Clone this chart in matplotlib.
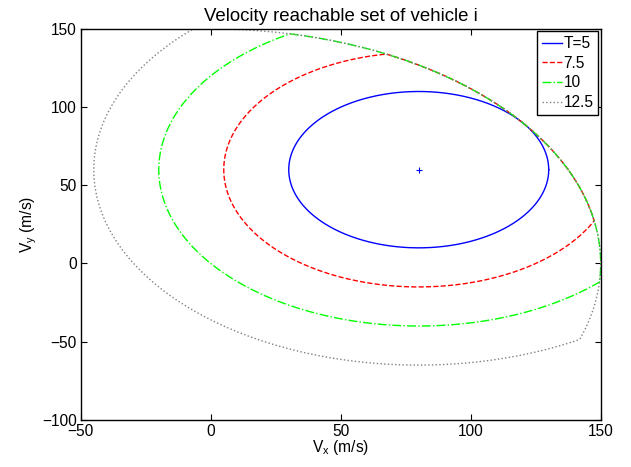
import matplotlib

matplotlib.use("Agg")

import matplotlib.pyplot as plt
import numpy as np

plt.rcParams["font.family"] = ["Liberation Sans", "DejaVu Sans"]
plt.rcParams["font.size"] = 11.2

# reachable-set parameters
horizons = ["T=5", "7.5", "10", "12.5"]
radii = [50.0, 75.0, 100.0, 125.0]      # reach radius around current velocity
center = (80.0, 60.0)                   # current velocity of vehicle i
speed_limit = 150.0                     # |V| <= speed_limit
line_styles = ["-", "--", "-.", ":"]
line_colors = ["#0000ff", "#ff0000", "#00ff00", "#808080"]


def reachable_boundary(radius, n_points=720):
    """
    Boundary of the disk around the current velocity clipped by the speed disk.
    Both sets are convex and contain the center, so take the radial minimum.
    """
    cx, cy = center
    theta = np.linspace(0.0, 2.0 * np.pi, n_points)
    ux, uy = np.cos(theta), np.sin(theta)
    proj = cx * ux + cy * uy
    t_limit = -proj + np.sqrt(proj**2 - (cx**2 + cy**2) + speed_limit**2)
    t = np.minimum(radius, t_limit)
    return cx + t * ux, cy + t * uy


fig = plt.figure(figsize=(6.31, 4.67), dpi=100)
ax = fig.add_axes([0.128, 0.101, 0.824, 0.837])

for label, radius, ls, color in zip(horizons, radii, line_styles, line_colors):
    vx, vy = reachable_boundary(radius)
    ax.plot(vx, vy, ls, color=color, linewidth=1.0, label=label)

ax.plot(center[0], center[1], "+", color="#0000ff", markersize=4, markeredgewidth=0.8)

ax.set_xlim(-50, 150)
ax.set_ylim(-100, 150)
ax.set_xticks([-50, 0, 50, 100, 150])
ax.set_yticks([-100, -50, 0, 50, 100, 150])
ax.tick_params(direction="in", top=True, right=True, length=4, width=0.8, pad=3)
for spine in ax.spines.values():
    spine.set_linewidth(1.0)

ax.set_xlabel(r"V$_{\mathregular{x}}$ (m/s)", labelpad=-1)
ax.set_ylabel(r"V$_{\mathregular{y}}$ (m/s)", labelpad=2)
ax.set_title("Velocity reachable set of vehicle i", pad=6)

leg = ax.legend(
    loc="upper right",
    fancybox=False,
    framealpha=1.0,
    edgecolor="black",
    borderpad=0.3,
    labelspacing=0.3,
    handlelength=1.3,
    handletextpad=0.1,
    borderaxespad=0.15,
)
leg.get_frame().set_linewidth(1.0)

fig.savefig("out.png", dpi=100)
